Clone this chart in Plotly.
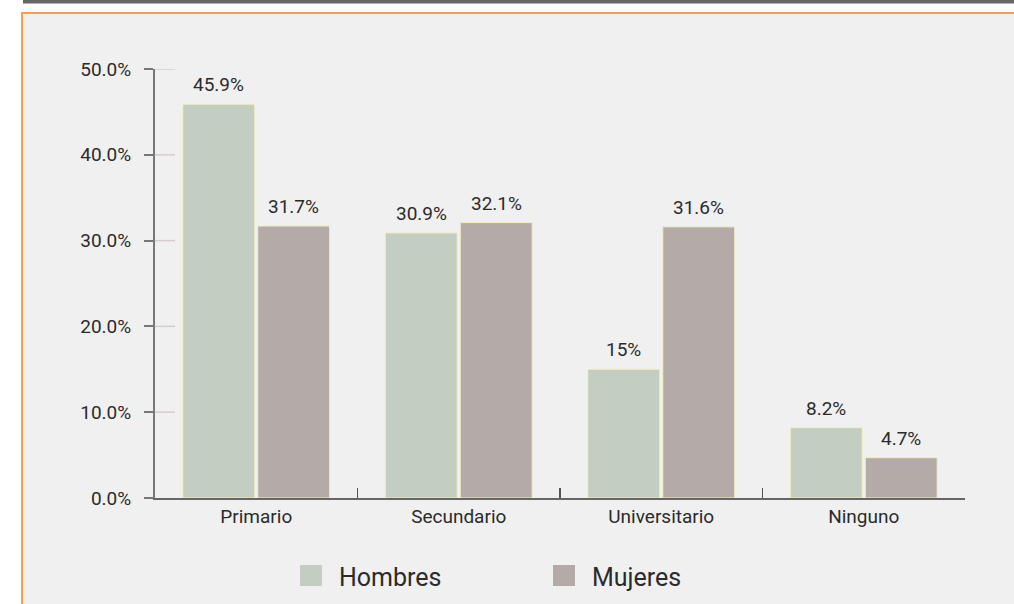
import plotly.graph_objects as go

categories = ["Primario", "Secundario", "Universitario", "Ninguno"]
series_names = ["Hombres", "Mujeres"]
hombres = [45.9, 30.9, 15, 8.2]
mujeres = [31.7, 32.1, 31.6, 4.7]
y_ticks = [0, 10, 20, 30, 40, 50]
y_tick_labels = ["0.0%", "10.0%", "20.0%", "30.0%", "40.0%", "50.0%"]

colors = ["#c3cdc2", "#b4aba8"]
FONT = "Roboto, Liberation Sans, sans-serif"
TXT = "#2b2b2b"

L, R, T, B = 155, 49, 69, 106
W, H = 1014, 604
pw, ph = W - L - R, H - T - B


def px_x(px):
    return (px - L) / pw


def px_y(py):
    return (H - B - py) / ph


fig = go.Figure()
for name, vals, col in zip(series_names, [hombres, mujeres], colors):
    fig.add_trace(go.Bar(
        x=categories, y=vals, name=name,
        marker=dict(color=col, line=dict(color="#f3efc2", width=1)),
        showlegend=False, hoverinfo="skip",
    ))

annotations = []
for i, vals in enumerate([hombres, mujeres]):
    shift = -37.5 if i == 0 else 37.5
    for c, v in zip(categories, vals):
        annotations.append(dict(
            x=c, y=v, xref="x", yref="y", text=f"{v:g}%", showarrow=False,
            xshift=shift, yanchor="bottom", yshift=6,
            font=dict(family=FONT, size=19, color=TXT),
        ))

# manual legend
leg_x = [300, 553]
for name, lx in zip(series_names, leg_x):
    annotations.append(dict(
        x=px_x(lx + 37), y=px_y(577), xref="paper", yref="paper",
        text=name, showarrow=False, xanchor="left", yanchor="middle",
        font=dict(family=FONT, size=25, color=TXT),
    ))

shapes = [
    dict(type="rect", xref="paper", yref="paper",
         x0=px_x(22), x1=px_x(1030), y0=px_y(620), y1=px_y(13),
         line=dict(color="#f2a04e", width=2), fillcolor="#f0f0f0", layer="below"),
    dict(type="rect", xref="paper", yref="paper",
         x0=px_x(23), x1=px_x(1014), y0=px_y(3.5), y1=px_y(-2),
         line=dict(width=0), fillcolor="#666666", layer="below"),
]
for t in y_ticks[1:]:
    shapes.append(dict(type="line", xref="paper", yref="y",
                       x0=0, x1=px_x(175), y0=t, y1=t,
                       line=dict(color="#d9cccc", width=1.5), layer="below"))
for col, lx in zip(colors, leg_x):
    shapes.append(dict(type="rect", xref="paper", yref="paper",
                       x0=px_x(lx), x1=px_x(lx + 22), y0=px_y(586), y1=px_y(565),
                       line=dict(width=0), fillcolor=col))

fig.update_layout(
    width=W, height=H,
    margin=dict(l=L, r=R, t=T, b=B),
    paper_bgcolor="white", plot_bgcolor="rgba(0,0,0,0)",
    barmode="group", bargap=0.26, bargroupgap=0.04,
    shapes=shapes, annotations=annotations,
    font=dict(family=FONT, color=TXT),
    xaxis=dict(
        showline=True, linecolor="#666666", linewidth=2,
        ticks="inside", tickson="boundaries", ticklen=10, tickwidth=1.5, tickcolor="#555555",
        tickfont=dict(family=FONT, size=19, color=TXT),
        showgrid=False, zeroline=False, fixedrange=True,
    ),
    yaxis=dict(
        range=[0, 50], tickvals=y_ticks, ticktext=y_tick_labels,
        showline=True, linecolor="#777777", linewidth=2,
        ticks="outside", ticklen=9, tickwidth=2, tickcolor="#777777",
        tickfont=dict(family=FONT, size=19, color=TXT), ticklabelstandoff=9,
        showgrid=False, zeroline=False, fixedrange=True,
    ),
)

fig.write_html(
    "out.html",
    config={"displayModeBar": False, "staticPlot": True},
    post_script="document.body.style.margin='0';document.body.style.overflow='hidden';",
)
